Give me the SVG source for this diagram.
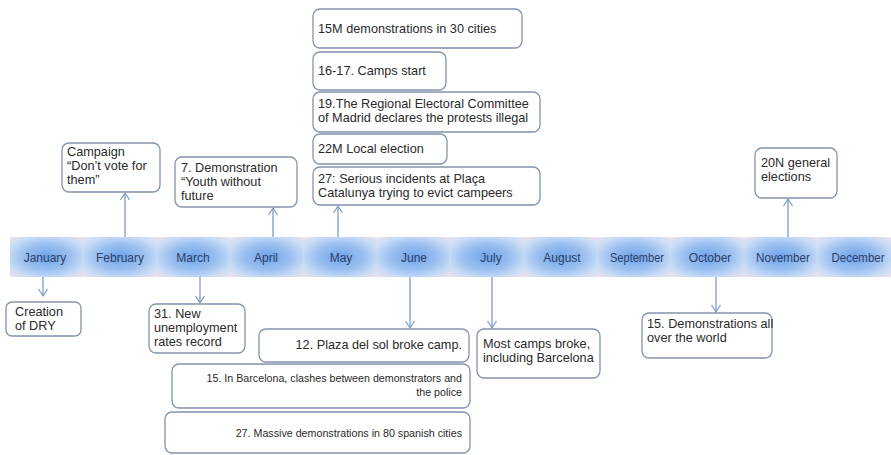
<svg xmlns="http://www.w3.org/2000/svg" width="891" height="455" viewBox="0 0 891 455">
<defs>
<radialGradient id="cell" cx="0.5" cy="0.5" r="0.72">
<stop offset="0" stop-color="#6ea3ea"/>
<stop offset="0.45" stop-color="#9bc0f0"/>
<stop offset="0.75" stop-color="#c9dcf5"/>
<stop offset="1" stop-color="#f1e2ec"/>
</radialGradient>
<marker id="ah" markerUnits="userSpaceOnUse" markerWidth="12" markerHeight="12" refX="10" refY="6" orient="auto">
<path d="M3,1.5 L10,6 L3,10.5" fill="none" stroke="#7a9cc6" stroke-width="1.2"/>
</marker>
<style>
.box{fill:#fff;stroke:#8593ad;stroke-width:1.3}
.t{font-family:"Liberation Sans",Arial,sans-serif;font-size:12.7px;fill:#2a2a2a}
.s{font-family:"Liberation Sans",Arial,sans-serif;font-size:10.7px;fill:#2a2a2a}
.m{font-family:"Liberation Sans",Arial,sans-serif;font-size:12px;fill:#2e4068;text-anchor:middle}
.c{stroke:#7a9cc6;stroke-width:1.3;fill:none;marker-end:url(#ah)}
</style>
</defs>
<rect width="891" height="455" fill="#fff"/>
<g id="timeline">
<rect x="10" y="237" width="881" height="40" fill="#d6e4f6"/>
<rect x="10" y="237" width="73.4" height="40" fill="url(#cell)"/>
<rect x="83.4" y="237" width="73.4" height="40" fill="url(#cell)"/>
<rect x="156.8" y="237" width="73.4" height="40" fill="url(#cell)"/>
<rect x="230.2" y="237" width="73.4" height="40" fill="url(#cell)"/>
<rect x="303.6" y="237" width="73.4" height="40" fill="url(#cell)"/>
<rect x="377" y="237" width="73.4" height="40" fill="url(#cell)"/>
<rect x="450.4" y="237" width="73.4" height="40" fill="url(#cell)"/>
<rect x="523.8" y="237" width="73.4" height="40" fill="url(#cell)"/>
<rect x="597.2" y="237" width="73.4" height="40" fill="url(#cell)"/>
<rect x="670.6" y="237" width="73.4" height="40" fill="url(#cell)"/>
<rect x="744" y="237" width="73.4" height="40" fill="url(#cell)"/>
<rect x="817.4" y="237" width="73.6" height="40" fill="url(#cell)"/>
<text class="m" x="45" y="262">January</text>
<text class="m" x="120" y="262">February</text>
<text class="m" x="193" y="262">March</text>
<text class="m" x="266" y="262">April</text>
<text class="m" x="341" y="262">May</text>
<text class="m" x="414" y="262">June</text>
<text class="m" x="491" y="262">July</text>
<text class="m" x="562" y="262">August</text>
<text class="m" x="637" y="262" textLength="54" lengthAdjust="spacingAndGlyphs">September</text>
<text class="m" x="710" y="262">October</text>
<text class="m" x="783" y="262" textLength="54" lengthAdjust="spacingAndGlyphs">November</text>
<text class="m" x="858" y="262" textLength="53" lengthAdjust="spacingAndGlyphs">December</text>
</g>
<g id="connectors">
<line class="c" x1="125" y1="237" x2="125" y2="193"/>
<line class="c" x1="273" y1="237" x2="273" y2="208"/>
<line class="c" x1="338" y1="237" x2="338" y2="206"/>
<line class="c" x1="788" y1="237" x2="788" y2="199"/>
<line class="c" x1="43" y1="277" x2="43" y2="296"/>
<line class="c" x1="200" y1="277" x2="200" y2="303"/>
<line class="c" x1="410" y1="277" x2="410" y2="328"/>
<line class="c" x1="492" y1="277" x2="492" y2="328"/>
<line class="c" x1="716" y1="277" x2="716" y2="312"/>
</g>
<g id="feb">
<rect class="box" x="62" y="143" width="98" height="49" rx="7"/>
<text class="t" x="67" y="156">Campaign</text>
<text class="t" x="67" y="170">“Don’t vote for</text>
<text class="t" x="67" y="184">them”</text>
</g>
<g id="apr">
<rect class="box" x="175" y="157" width="122" height="50" rx="7"/>
<text class="t" x="181" y="172">7. Demonstration</text>
<text class="t" x="181" y="186">“Youth without</text>
<text class="t" x="181" y="200">future</text>
</g>
<g id="may1">
<rect class="box" x="313" y="9" width="209" height="39" rx="7"/>
<text class="t" x="318" y="33">15M demonstrations in 30 cities</text>
</g>
<g id="may2">
<rect class="box" x="313" y="52" width="133" height="38" rx="7"/>
<text class="t" x="318" y="75">16-17. Camps start</text>
</g>
<g id="may3">
<rect class="box" x="313" y="92" width="227" height="40" rx="7"/>
<text class="t" x="318" y="108">19.The Regional Electoral Committee</text>
<text class="t" x="318" y="122">of Madrid declares the protests illegal</text>
</g>
<g id="may4">
<rect class="box" x="313" y="134" width="134" height="30" rx="7"/>
<text class="t" x="318" y="153">22M Local election</text>
</g>
<g id="may5">
<rect class="box" x="313" y="167" width="227" height="38" rx="7"/>
<text class="t" x="318" y="183">27: Serious incidents at Plaça</text>
<text class="t" x="318" y="197">Catalunya trying to evict campeers</text>
</g>
<g id="nov">
<rect class="box" x="755" y="148" width="82" height="50" rx="7"/>
<text class="t" x="761" y="167">20N general</text>
<text class="t" x="761" y="181">elections</text>
</g>
<g id="jan">
<rect class="box" x="6" y="302" width="75" height="34" rx="6"/>
<text class="t" x="15" y="316">Creation</text>
<text class="t" x="15" y="330">of DRY</text>
</g>
<g id="mar">
<rect class="box" x="149" y="304" width="96" height="49" rx="7"/>
<text class="t" x="154" y="318">31. New</text>
<text class="t" x="154" y="332">unemployment</text>
<text class="t" x="154" y="346">rates record</text>
</g>
<g id="jun1">
<rect class="box" x="259" y="329" width="210" height="33" rx="7"/>
<text class="t" x="462" y="349" text-anchor="end">12. Plaza del sol  broke camp.</text>
</g>
<g id="jun2">
<rect class="box" x="172" y="364" width="298" height="44" rx="7"/>
<text class="s" x="462" y="382" text-anchor="end">15. In Barcelona, clashes between demonstrators and</text>
<text class="s" x="462" y="396" text-anchor="end">the police</text>
</g>
<g id="jun3">
<rect class="box" x="165" y="412" width="305" height="41" rx="7"/>
<text class="s" x="462" y="437" text-anchor="end">27. Massive demonstrations in 80 spanish cities</text>
</g>
<g id="jul">
<rect class="box" x="477" y="329" width="123" height="49" rx="7"/>
<text class="t" x="483" y="348">Most camps broke,</text>
<text class="t" x="483" y="362">including Barcelona</text>
</g>
<g id="oct">
<rect class="box" x="642" y="313" width="130" height="45" rx="7"/>
<text class="t" x="647" y="328">15. Demonstrations all</text>
<text class="t" x="647" y="342">over the world</text>
</g>
</svg>
